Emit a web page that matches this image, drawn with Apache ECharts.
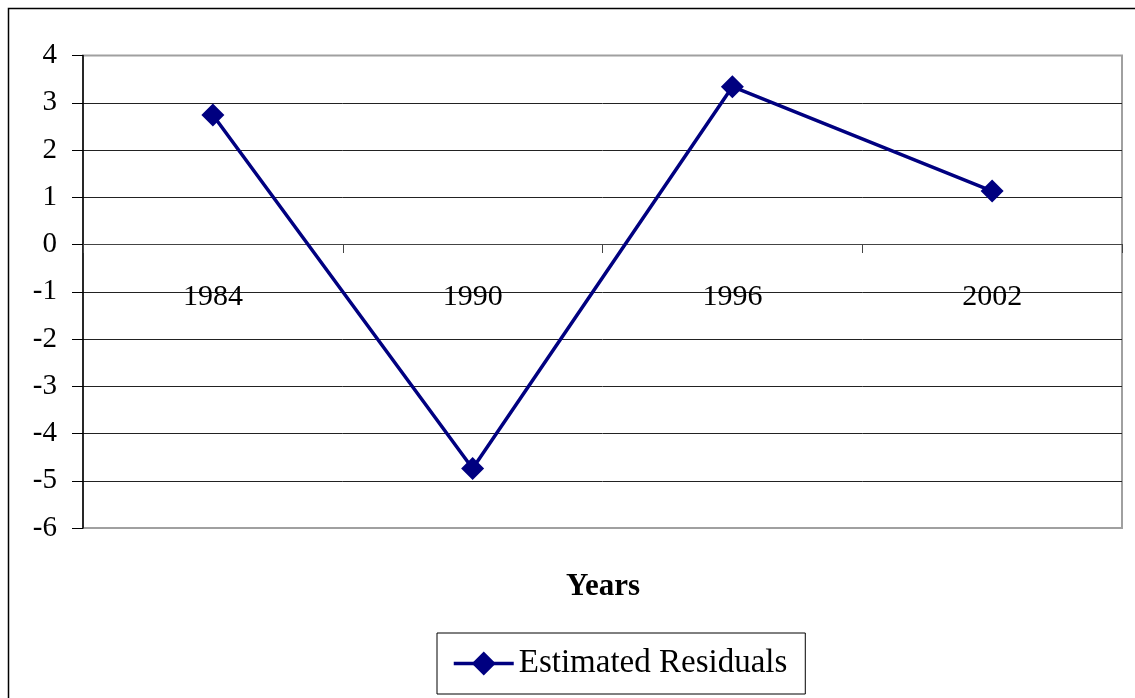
<!DOCTYPE html>
<html>
<head>
<meta charset="utf-8">
<script src="https://cdn.jsdelivr.net/npm/echarts@6/dist/echarts.min.js"></script>
<style>
html,body{margin:0;padding:0;background:#fff;}
#chart{width:1135px;height:698px;}
</style>
</head>
<body>
<div id="chart"></div>
<script>
var years = ['1984', '1990', '1996', '2002'];
var residuals = [2.74, -4.74, 3.34, 1.13];
var yTicks = {min: -6, max: 4, step: 1};
var seriesName = 'Estimated Residuals';
var axisTitle = 'Years';

var FONT = '"Liberation Serif", "Times New Roman", serif';
var chart = echarts.init(document.getElementById('chart'), null, {renderer: 'canvas'});
chart.setOption({
  animation: false,
  backgroundColor: '#fff',
  textStyle: {fontFamily: FONT, color: '#000'},
  grid: {
    left: 83, top: 55.5, right: 13, bottom: 170,
    show: true, borderColor: '#a0a0a0', borderWidth: 2, backgroundColor: 'transparent'
  },
  xAxis: {
    type: 'category',
    data: years,
    boundaryGap: true,
    position: 'bottom',
    offset: -284,
    axisLine: {onZero: false, lineStyle: {color: '#444', width: 1}},
    axisTick: {show: true, length: 9, inside: false, lineStyle: {color: '#444'}},
    axisLabel: {fontFamily: FONT, fontSize: 30, color: '#000', margin: 38},
    splitLine: {show: false}
  },
  yAxis: {
    type: 'value',
    min: yTicks.min, max: yTicks.max, interval: yTicks.step,
    axisLine: {show: true, onZero: false, lineStyle: {color: '#000', width: 1.5}},
    axisTick: {show: true, length: 11, inside: false, lineStyle: {color: '#000'}},
    axisLabel: {fontFamily: FONT, fontSize: 29, color: '#000', margin: 26},
    splitLine: {show: true, showMinLine: false, showMaxLine: false, lineStyle: {color: '#222', width: 1}}
  },
  legend: {
    show: true,
    left: 437, top: 633,
    orient: 'horizontal',
    data: [seriesName],
    itemWidth: 60, itemHeight: 30,
    lineStyle: {width: 3.5},
    padding: [14, 18, 14, 15],
    borderColor: '#000', borderWidth: 1,
    textStyle: {fontFamily: FONT, fontSize: 33, color: '#000'}
  },
  graphic: [
    {type: 'rect', left: 6, top: 6, shape: {x: 0, y: 0, width: 1140, height: 700},
     style: {fill: 'none', stroke: '#000', lineWidth: 1.5}, z: -1, silent: true},
    {type: 'text', x: 603, y: 587,
     style: {text: axisTitle, font: 'bold 31px ' + FONT, fill: '#000', textAlign: 'center', textVerticalAlign: 'middle'}}
  ],
  series: [{
    name: seriesName,
    type: 'line',
    data: residuals,
    symbol: 'diamond',
    symbolSize: 23,
    itemStyle: {color: '#000080'},
    lineStyle: {color: '#000080', width: 3.5},
    z: 5
  }]
});
</script>
</body>
</html>
